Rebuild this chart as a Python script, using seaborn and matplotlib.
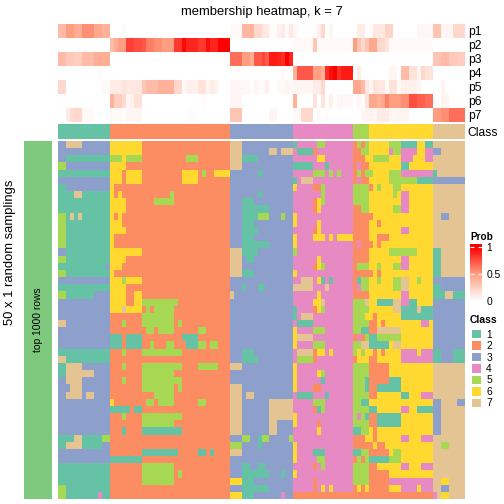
import numpy as np
import matplotlib
matplotlib.use("Agg")
import matplotlib.pyplot as plt
from matplotlib.colors import ListedColormap, LinearSegmentedColormap, Normalize
from matplotlib.cm import ScalarMappable
import seaborn as sns

plt.rcParams['font.family'] = ['Liberation Sans', 'DejaVu Sans']

CLASS_NAMES = ['1', '2', '3', '4', '5', '6', '7']
CLASS_COLORS = ['#66C2A5', '#FC8D62', '#8DA0CB', '#E78AC3', '#A6D854', '#FFD92F', '#E5C494']
PROB_NAMES = ['p1', 'p2', 'p3', 'p4', 'p5', 'p6', 'p7']
COLUMN_CLASS = "1x13 | 2x30 | 3x16 | 4x15 | 5x4 | 6x16 | 7x8"

P1 = ".35x2 .5x2 .42x2 .55x3 .45x2 .4x2 | 0x3 .02 0x26 | .03x3 .38x3 .2x2 .12x2 .02x2 .07 .1 .03 .12 | .05 0x5 .08 .2 0 .05 0x5 | 0 .1x2 0 | .03 .12x3 .22x2 0x6 .04x4 | .3x2 .05x3 .2x3"
P2 = "0x13 | .35 .42 .5x2 .8x2 .75x2 .72 .6x2 .55x2 .5x3 .82x2 .97 .88x3 .82x2 .95 .88x2 1x3 | 0x16 | .03x5 .3 .03x9 | .5 .3 .2 .3 | .45x2 .2x2 .15 .03x11 | 0x8"
P3 = ".35x2 .28x2 .25x2 .35x3 .42x4 | 0x30 | .65x3 .5x2 .42 .72x2 .78 .7 .92x2 .9 .85 1 .88 | 0x15 | 0x4 | 0x16 | .3x2 .35x2 .28x2 .25x2"
P4 = "0x10 .02 0x2 | 0x30 | 0x13 .03 0x2 | .4 .72x4 .48 .5 .4 .85 .95 1 .85 .92x3 | 0 .1 0 0 | 0x5 .05x2 0 .35x2 .15x2 .06 .2 .15x2 | 0x8"
P5 = ".2x2 0x9 .03x2 | .1x3 .15 .12x4 .3 .35x3 .4x4 .2x2 .03 .08x3 .15x2 .05 .1 .07 0x3 | .04x5 0 .05 .03x2 .08 0x2 .03x2 .06 .03 | .05x5 .1x2 .2 0x7 | .45x2 .35 .12 | .05 .15 .12x2 .03 .15x2 .03 .08x4 .05 0x3 | 0x2 .06 0x5"
P6 = "0x13 | .4 .25x2 .18 .04 .08 .15x2 0x15 .03 0x6 | .05x3 0x13 | .4 0x4 .15 0 .15 0 .08 0 .04x4 | 0 .05 0 .15 | .45x2 .4 .45 .6 .5x3 .55x2 .75x2 .7x2 .65x2 | 0x2 .06x2 0x4"
P7 = "0x2 .1 .18 .2x2 .03x3 0x4 | .03x3 0 .05x4 0x11 .02x3 0x8 | .3x3 0x7 .05x2 0x4 | .03 .04 .2x3 0 .03 0 .03 0x6 | 0x2 .04 .06 | .06 .04 .1x3 .05x2 .06x3 0x6 | .5x2 .55x2 .65x4"
PROB_ROWS = [P1, P2, P3, P4, P5, P6, P7]

SAMPLING_ROWS = [
"3x2 7x4 3x7 | 6x8 2x22 | 7x3 3x13 | 1x1 4x5 5x2 4x7 | 2x1 5x1 2x1 5x1 | 6x5 5x3 1x4 6x2 1x2 | 7x8",
"3x13 | 6x8 2x22 | 7x3 3x7 7x2 3x1 7x3 | 4x1 1x4 2x1 4x9 | 2x2 5x2 | 6x5 4x1 5x2 4x4 6x2 4x2 | 3x2 7x6",
"3x2 1x11 | 5x3 6x1 5x4 2x11 5x3 2x8 | 7x3 1x4 3x9 | 4x6 6x2 4x7 | 2x3 6x1 | 6x1 5x4 6x3 4x3 6x3 4x2 | 7x8",
"5x2 3x11 | 6x4 2x26 | 7x3 3x13 | 1x5 4x3 1x1 4x6 | 2x1 4x1 2x2 | 6x8 1x2 6x6 | 7x8",
"1x13 | 6x3 2x1 6x4 2x10 6x4 2x1 5x1 2x2 6x4 | 3x7 1x1 3x8 | 4x5 5x3 4x1 5x1 4x1 5x1 4x3 | 2x1 5x1 2x1 5x1 | 5x1 6x4 5x3 4x8 | 1x1 7x7",
"3x13 | 6x3 2x1 6x4 2x10 6x4 2x8 | 3x16 | 1x1 4x1 7x3 4x10 | 2x1 4x1 2x2 | 6x5 5x7 1x4 | 3x8",
"1x2 3x11 | 6x1 2x29 | 3x16 | 6x1 4x4 2x2 5x1 4x7 | 5x4 | 2x1 6x1 5x1 6x3 5x2 6x8 | 7x8",
"1x4 7x2 1x7 | 6x1 2x1 6x1 2x12 5x1 2x14 | 3x7 1x1 3x8 | 4x7 5x1 4x7 | 5x4 | 6x6 5x1 6x1 4x2 6x6 | 7x8",
"1x13 | 6x4 2x7 5x5 2x14 | 3x3 1x3 3x10 | 4x5 2x1 6x1 5x1 4x7 | 5x4 | 6x8 4x2 6x6 | 7x8",
"1x13 | 6x4 2x26 | 3x3 1x7 3x6 | 4x5 2x1 6x1 4x8 | 2x2 5x2 | 6x6 5x2 4x2 6x6 | 7x8",
"5x2 1x1 7x1 1x1 7x1 1x7 | 6x1 2x1 6x1 2x27 | 3x3 1x4 5x3 3x3 5x1 3x2 | 6x1 4x14 | 2x4 | 2x1 6x15 | 7x2 3x2 7x4",
"5x2 1x11 | 6x3 2x27 | 3x3 1x3 3x10 | 6x1 4x5 6x1 4x8 | 2x4 | 6x2 2x1 6x13 | 7x8",
"5x2 1x11 | 6x4 2x26 | 3x3 1x4 3x9 | 4x5 2x1 6x1 4x8 | 2x4 | 6x8 4x2 6x6 | 7x8",
"5x2 1x11 | 6x1 2x29 | 3x3 1x3 3x10 | 6x1 4x4 6x3 4x1 6x1 4x1 6x4 | 2x4 | 6x2 2x3 6x11 | 7x8",
"5x2 1x11 | 6x1 2x29 | 3x3 1x7 3x6 | 6x1 4x14 | 2x1 4x1 2x2 | 2x1 6x1 2x1 6x13 | 7x8",
"3x2 1x11 | 6x8 2x22 | 7x3 1x4 3x9 | 5x1 4x14 | 2x4 | 6x5 5x7 6x4 | 1x2 7x6",
"5x2 1x11 | 6x4 2x26 | 7x3 3x1 1x2 3x10 | 4x6 6x1 4x8 | 2x4 | 6x8 4x2 6x6 | 1x2 7x6",
"1x12 3x1 | 6x3 2x27 | 7x3 3x13 | 4x5 2x1 6x1 5x1 4x7 | 2x1 5x3 | 6x2 5x1 6x3 5x2 4x2 6x6 | 1x2 7x6",
"5x2 1x11 | 6x1 2x29 | 7x3 1x3 3x10 | 6x1 4x14 | 2x4 | 2x1 6x1 2x1 6x13 | 1x2 7x6",
"3x13 | 6x3 5x1 6x4 2x22 | 3x16 | 4x2 7x3 4x1 6x1 1x1 4x1 1x1 4x5 | 2x1 1x1 5x2 | 6x2 5x1 6x3 5x2 7x2 6x2 5x1 6x3 | 3x8",
"1x13 | 6x4 2x26 | 3x3 1x1 3x3 1x2 3x7 | 7x5 4x3 7x1 4x6 | 2x1 4x1 5x2 | 6x6 5x2 7x2 6x6 | 1x2 3x6",
"5x2 1x7 3x4 | 6x4 2x2 6x2 2x22 | 7x1 3x15 | 4x6 6x1 4x8 | 2x4 | 6x8 4x2 6x6 | 1x3 7x2 1x3",
"3x13 | 6x4 2x2 6x2 5x9 2x13 | 3x16 | 4x5 6x2 7x1 4x7 | 5x3 7x1 | 6x2 1x4 7x2 4x2 1x2 6x4 | 3x8",
"3x13 | 6x3 7x1 6x4 2x1 5x1 2x1 5x5 2x14 | 3x16 | 1x1 4x4 2x1 6x1 5x1 4x7 | 5x4 | 6x6 7x2 1x4 7x1 1x3 | 3x8",
"3x13 | 2x8 5x8 2x14 | 3x16 | 1x1 4x1 7x3 4x10 | 5x3 6x1 | 6x1 2x1 6x6 1x8 | 3x8",
"7x2 3x11 | 2x3 5x1 2x4 5x8 2x1 5x1 2x12 | 3x16 | 4x1 1x4 4x10 | 5x4 | 2x2 6x1 2x1 6x9 4x2 6x1 | 3x8",
"3x13 | 2x9 5x2 2x1 5x4 2x6 5x2 2x6 | 3x16 | 6x1 4x4 5x3 4x7 | 5x2 1x2 | 2x2 7x6 6x8 | 3x8",
"3x13 | 1x3 2x1 1x4 2x10 1x4 2x8 | 3x16 | 6x1 7x4 4x10 | 2x1 4x1 2x1 5x1 | 1x2 5x6 6x8 | 3x8",
"3x13 | 1x3 2x1 1x4 2x2 5x1 2x3 5x2 2x3 1x3 5x2 2x1 5x2 2x3 | 3x16 | 6x1 4x4 5x3 4x7 | 5x2 7x2 | 1x5 6x1 7x2 6x8 | 3x8",
"1x13 | 2x3 5x1 2x4 5x10 2x12 | 3x3 1x3 3x10 | 4x1 7x4 2x1 6x2 4x1 6x1 4x5 | 5x1 6x1 5x1 6x1 | 6x1 2x1 6x1 2x1 6x4 4x4 6x1 4x3 | 1x2 3x3 1x3",
"7x2 1x11 | 2x30 | 3x3 1x4 3x9 | 4x1 5x4 2x1 4x9 | 2x1 6x3 | 2x2 6x6 4x8 | 1x2 3x3 1x3",
"1x2 7x4 3x7 | 2x3 5x1 2x4 5x10 2x4 5x5 2x3 | 7x3 3x13 | 6x1 4x14 | 5x4 | 2x5 6x11 | 7x8",
"1x2 7x7 3x4 | 2x8 5x8 2x14 | 3x16 | 6x1 4x5 6x1 5x1 4x7 | 5x4 | 2x5 6x11 | 7x8",
"3x2 7x4 3x7 | 2x3 5x1 2x4 5x10 2x12 | 3x16 | 6x1 4x6 1x1 4x7 | 5x3 1x1 | 2x5 1x3 6x8 | 7x8",
"3x3 7x3 3x7 | 2x8 5x8 2x1 5x1 2x12 | 7x3 3x13 | 6x1 4x4 2x2 4x8 | 5x3 1x1 | 2x2 1x6 6x8 | 7x8",
"3x2 7x4 3x1 7x2 3x4 | 2x11 5x5 2x14 | 7x3 3x1 7x2 3x10 | 4x1 1x4 4x3 1x1 4x6 | 5x4 | 2x2 6x6 1x2 6x3 4x3 | 7x8",
"3x13 | 6x1 2x8 5x2 2x1 5x4 2x6 5x2 2x6 | 7x3 3x7 7x6 | 4x5 5x3 4x7 | 5x2 1x2 | 6x16 | 3x2 7x4 3x2",
"3x13 | 1x5 2x1 1x2 2x22 | 7x3 3x7 7x6 | 4x5 2x1 1x1 5x1 4x7 | 5x4 | 1x2 6x6 4x2 6x2 1x4 | 3x2 7x6",
"3x13 | 2x3 5x1 2x4 5x10 2x12 | 7x3 3x7 7x6 | 6x1 4x14 | 5x1 4x1 5x1 1x1 | 2x2 1x6 6x8 | 3x2 7x6",
"3x13 | 2x8 5x8 2x14 | 7x3 3x7 7x2 3x4 | 6x1 4x5 2x1 4x8 | 5x4 | 2x2 1x6 6x8 | 3x2 7x6",
"3x13 | 2x3 1x1 2x4 1x10 2x12 | 7x3 3x7 7x2 3x4 | 4x6 6x1 4x8 | 1x2 5x2 | 6x1 2x1 6x14 | 3x2 7x6",
"1x4 7x2 1x5 5x2 | 2x30 | 3x3 5x2 3x2 1x1 5x2 3x5 5x1 | 4x15 | 2x3 6x1 | 6x1 2x1 6x6 4x2 6x3 4x3 | 7x8",
"1x2 7x4 1x5 3x2 | 2x30 | 5x3 3x4 1x1 3x8 | 6x1 4x14 | 2x4 | 2x1 6x1 2x2 6x12 | 7x2 5x2 7x4",
"3x13 | 2x8 1x9 2x5 1x2 2x1 1x1 2x4 | 7x3 3x13 | 6x1 4x4 1x3 4x7 | 1x2 5x2 | 2x5 6x1 5x2 6x8 | 7x8",
"3x13 | 1x8 2x22 | 3x16 | 6x1 4x5 5x2 4x7 | 2x1 5x1 2x1 5x1 | 1x5 5x3 6x8 | 7x8",
"1x13 | 2x8 5x8 2x14 | 3x3 1x2 3x2 1x2 3x7 | 4x5 2x1 4x1 5x1 4x7 | 5x4 | 2x2 6x6 4x2 6x3 4x3 | 7x8",
"1x13 | 2x8 5x8 2x1 5x1 2x12 | 3x3 1x7 3x3 1x1 3x2 | 6x1 4x14 | 5x4 | 2x5 6x11 | 7x8",
"1x13 | 2x8 5x8 2x14 | 6x3 1x3 3x10 | 4x5 2x1 4x9 | 5x4 | 2x5 4x11 | 7x2 6x2 7x4",
"5x2 1x11 | 2x30 | 3x3 1x7 3x6 | 4x5 2x1 4x1 6x1 4x1 6x1 4x5 | 2x1 6x1 2x1 6x1 | 2x5 6x3 4x4 6x1 4x3 | 7x2 3x2 7x4",
"5x2 1x8 4x1 1x2 | 2x30 | 6x3 1x3 3x7 4x1 3x2 | 2x15 | 2x4 | 2x16 | 4x1 7x1 6x2 7x4",
]


def expand(text):
    values = []
    for token in text.replace('|', ' ').split():
        value, _, count = token.partition('x')
        values += [float(value)] * int(count or 1)
    return values


def px_axes(x0, y0, x1, y1):
    return fig.add_axes([x0 / W, 1 - y1 / H, (x1 - x0) / W, (y1 - y0) / H])


W, H = 504, 504
fig = plt.figure(figsize=(W / 100, H / 100), dpi=100, facecolor='white')

sampling = np.array([expand(r) for r in SAMPLING_ROWS])
probs = np.array([expand(r) for r in PROB_ROWS])
classes = np.array([expand(COLUMN_CLASS)])
class_cmap = ListedColormap(CLASS_COLORS)
prob_cmap = LinearSegmentedColormap.from_list('prob', [(0, '#FFFFFF'), (0.5, '#FF9E81'), (1, '#FF0000')])
kw = dict(cmap=class_cmap, vmin=0.5, vmax=7.5, cbar=False, xticklabels=False)

# membership probabilities
ax = px_axes(58, 24, 465, 122)
sns.heatmap(probs, ax=ax, cmap=prob_cmap, vmin=0, vmax=1, cbar=False, xticklabels=False, yticklabels=PROB_NAMES)
ax.yaxis.tick_right()
ax.tick_params(axis='y', length=0, pad=2, labelrotation=0, labelsize=8.7)
ax.set_title('membership heatmap, k = 7', fontsize=9.4, pad=6.5, x=0.5)

# class annotation
ax = px_axes(58, 124, 465, 139)
sns.heatmap(classes, ax=ax, yticklabels=['Class'], **kw)
ax.yaxis.tick_right()
ax.tick_params(axis='y', length=0, pad=2, labelrotation=0, labelsize=8.7)

# sampling matrix
ax = px_axes(58, 141, 465, 499)
sns.heatmap(sampling, ax=ax, yticklabels=False, **kw)

# row block
ax = px_axes(24, 141, 52, 499)
sns.heatmap(np.zeros((1, 1)), ax=ax, cmap=ListedColormap(['#7FC97F']), cbar=False, xticklabels=False, yticklabels=False)
ax.text(0.5, 0.5, 'top 1000 rows', rotation=90, ha='center', va='center', fontsize=7.4)
fig.text(10.5 / W, 1 - 252.5 / H, '50 x 1 random samplings', rotation=90, ha='center', va='center', fontsize=9.4)

# probability legend
fig.text(470 / W, 1 - 236.5 / H, 'Prob', fontsize=7.2, fontweight='bold', ha='left', va='center')
cax = px_axes(470, 244, 482, 301)
legend_top = 57 / 54
legend_cmap = LinearSegmentedColormap.from_list(
    'prob_legend', [(0, '#FFFFFF'), (0.5 / legend_top, '#FF9E81'), (1 / legend_top, '#FF0000'), (1, '#FF0000')])
cbar = fig.colorbar(ScalarMappable(Normalize(0, legend_top), legend_cmap), cax=cax, ticks=[0, 0.5, 1])
cbar.ax.set_yticklabels(['0', '0.5', '1'])
cbar.ax.tick_params(direction='in', color='white', length=3, width=0.8, labelsize=7.4, pad=3, left=True, right=True)
cbar.outline.set_visible(False)

# class legend
fig.text(470 / W, 1 - 320 / H, 'Class', fontsize=7.4, fontweight='bold', ha='left', va='center')
ax = px_axes(470, 328, 482, 408)
sns.heatmap(np.arange(1, 8).reshape(-1, 1), ax=ax, yticklabels=CLASS_NAMES, linewidths=0.8, linecolor='white', **kw)
ax.yaxis.tick_right()
ax.tick_params(axis='y', length=0, pad=3, labelrotation=0, labelsize=7.4)

fig.savefig('out.png', dpi=100, facecolor='white')
